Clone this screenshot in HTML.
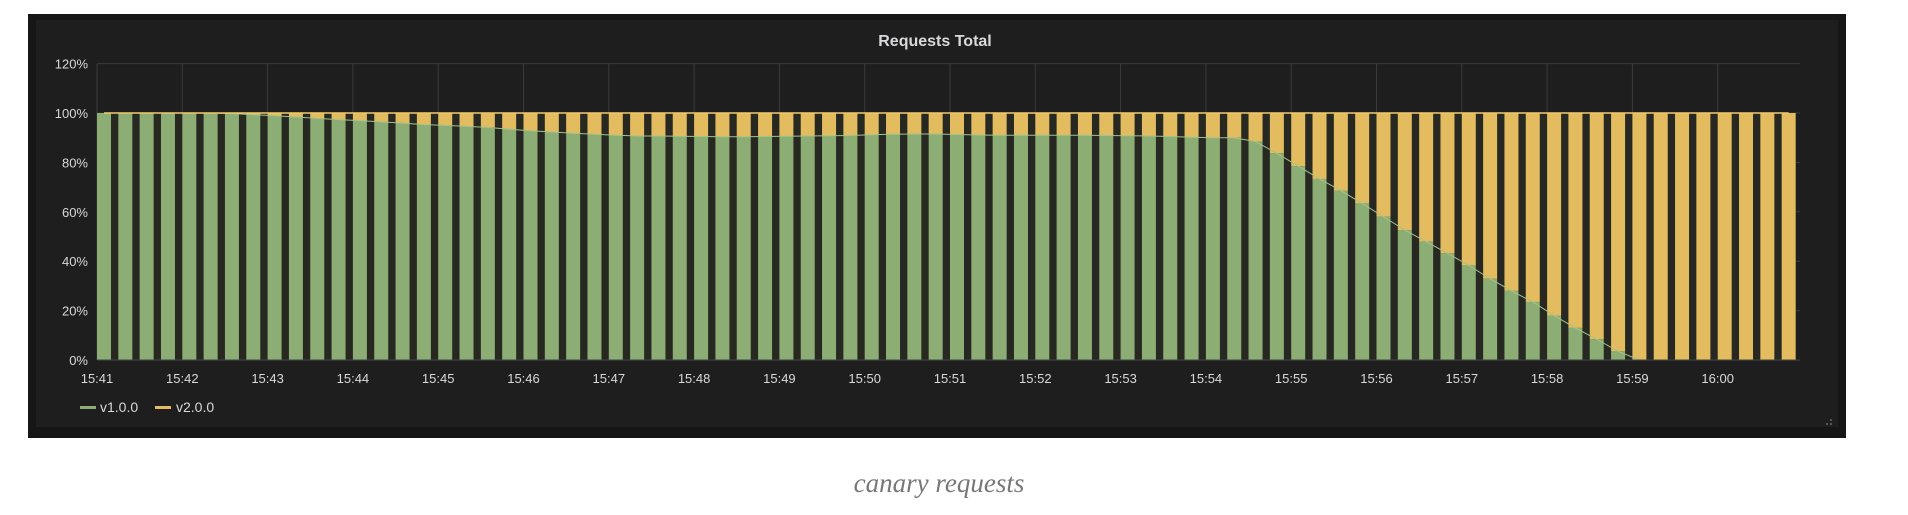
<!DOCTYPE html>
<html><head><meta charset="utf-8"><style>
body{margin:0;background:#fff;width:1908px;height:510px;overflow:hidden;font-family:"Liberation Sans",sans-serif}
</style></head><body>
<svg width="1908" height="510" xmlns="http://www.w3.org/2000/svg">
<rect x="28" y="14" width="1818" height="424" fill="#161616"/>
<rect x="36" y="20" width="1802" height="407" fill="#1f1e1f"/>
<text x="935" y="46" text-anchor="middle" fill="#d8d9da" font-size="16" font-weight="bold">Requests Total</text>
<g id="grid"></g><g id="bars"></g><g id="axes"></g>
<g>
<rect x="80" y="406" width="16" height="3" fill="#8cad74"/>
<text x="100" y="412" fill="#d8d9da" font-size="14">v1.0.0</text>
<rect x="155" y="406" width="16" height="3" fill="#e3bc5f"/>
<text x="176" y="412" fill="#d8d9da" font-size="14">v2.0.0</text>
</g>
<g fill="#555"><rect x="1830" y="423" width="2" height="2"/><rect x="1826" y="423" width="2" height="2"/><rect x="1830" y="419" width="2" height="2"/></g>
<text x="939" y="492" text-anchor="middle" fill="#777" font-size="27" font-style="italic" font-family="Liberation Serif, serif">canary requests</text>
</svg>
<script>
const yTicks=[0,20,40,60,80,100,120];
const xLabels=["15:41","15:42","15:43","15:44","15:45","15:46","15:47","15:48","15:49","15:50","15:51","15:52","15:53","15:54","15:55","15:56","15:57","15:58","15:59","16:00"];
const v1=[100,100,100,100,100,100,99.8,99.3,98.9,98.4,97.8,97.3,96.9,96.4,95.9,95.3,95.0,94.6,94.2,93.4,92.8,92.3,91.8,91.4,91.0,90.7,90.7,90.6,90.5,90.4,90.4,90.5,90.6,90.7,90.8,90.9,91.2,91.4,91.5,91.5,91.3,91.1,91.0,91.0,91.0,91.0,91.0,90.9,90.8,90.7,90.5,90.2,90.0,90.0,88.4,83.7,78.5,73.3,68.6,63.4,58.0,52.6,47.9,43.2,38.3,32.9,28.0,23.5,18.0,13.0,8.4,3.5,0,0,0,0,0,0,0,0];
const v2=v1.map(v=>100-v);
const NS="http://www.w3.org/2000/svg";
const X0=97,MIN=85.3,PER=MIN/4,BW=14,Y0=360,Y100=113,XR=1800;
function x(i){return X0+i*PER;}
function y(p){return Y0-(Y0-Y100)*p/100;}
function mk(t,a,p){const e=document.createElementNS(NS,t);for(const k in a)e.setAttribute(k,a[k]);p.appendChild(e);return e;}
const grid=document.getElementById('grid'),bars=document.getElementById('bars'),axes=document.getElementById('axes');
yTicks.forEach(t=>{
 const l=mk('line',{x1:X0,x2:XR,y1:y(t),y2:y(t),stroke:'#3a3a3a','stroke-width':1},grid);
 
 
 const tx=mk('text',{x:X0-9,y:y(t)+5,'text-anchor':'end',fill:'#d8d9da','font-size':13},axes);
 tx.textContent=t+'%';
 
 
});
xLabels.forEach((s,i)=>{
 const xx=X0+i*MIN;
 const l=mk('line',{x1:xx,x2:xx,y1:y(120),y2:Y0,stroke:'#3a3a3a','stroke-width':1},grid);
 
 
 const tx=mk('text',{x:xx,y:383,'text-anchor':'middle',fill:'#d8d9da','font-size':13},axes);
 tx.textContent=s;
 
 
});
const bg=mk('rect',{x:X0,y:y(100),width:x(v1.length-1)+BW-X0,height:Y0-y(100),fill:'#282823'},bars);


v1.forEach((v,i)=>{
 const g=mk('rect',{x:x(i),y:y(v),width:BW,height:Y0-y(v),fill:'#8cad74'},bars);
 
 
 const h=v2[i];
 const o=mk('rect',{x:x(i),y:y(v+h),width:BW,height:y(v)-y(v+h),fill:'#e3bc5f'},bars);
 
 
});
const pts1=v1.map((v,i)=>(x(i)+BW/2)+','+y(v)).join(' ');
const ln=mk('polyline',{points:pts1,fill:'none',stroke:'#a3c48a','stroke-width':1},bars);


const pts2=v1.map((v,i)=>(x(i)+BW/2)+','+y(v+v2[i])).join(' ');
const ln2=mk('polyline',{points:pts2,fill:'none',stroke:'#f0cc6a','stroke-width':1.5},bars);


const ax=mk('line',{x1:X0,x2:XR,y1:Y0,y2:Y0,stroke:'#444','stroke-width':1},axes);


</script>
</body></html>
